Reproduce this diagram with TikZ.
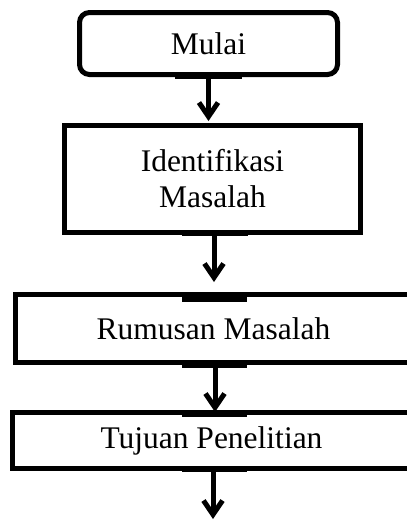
\documentclass[tikz,border=0pt]{standalone}
\usepackage{fontspec}
\setmainfont{Liberation Serif}
\usetikzlibrary{arrows.meta}
\begin{document}
\begin{tikzpicture}[x=1pt,y=-1pt,
  box/.style={draw, line width=5pt, inner sep=0pt, align=center,
    font=\fontsize{31.5}{36}\selectfont},
  flow/.style={line width=5pt, -{Straight Barb[length=14pt,width=19pt]}},
  bar/.style={fill=black}]
\useasboundingbox (0,0) rectangle (407,520);
\clip (0,0) rectangle (407,520);
\node[box, rounded corners=10pt, minimum width=258pt, minimum height=62pt] (mulai) at (208.5,43.5) {Mulai};
\node[box, minimum width=296pt, minimum height=107pt] (ident) at (212.5,179) {Identifikasi\\Masalah};
\node[box, minimum width=396pt, minimum height=68pt] (rumus) at (213.5,328.5) {Rumusan Masalah};
\node[box, minimum width=398pt, minimum height=56pt] (tujuan) at (211.5,440.5) {Tujuan Penelitian};
\coordinate (end) at (213,519);
% thick joint bars
\fill[bar] (175,72.5) rectangle (242,78.5);
\fill[bar] (182,230) rectangle (248,235.5);
\fill[bar] (182,292) rectangle (247,302);
\fill[bar] (182,360) rectangle (247,368);
\fill[bar] (182,411) rectangle (247,417);
\fill[bar] (182,466) rectangle (247,472);
% connectors
\draw[flow, shorten >=2pt] (mulai.south) -- (mulai.south |- ident.north);
\draw[flow] (214,235) -- (214,282);
\draw[flow] (215,365) -- (215,412);
\draw[flow] (213,471) -- (end);
\end{tikzpicture}
\end{document}
